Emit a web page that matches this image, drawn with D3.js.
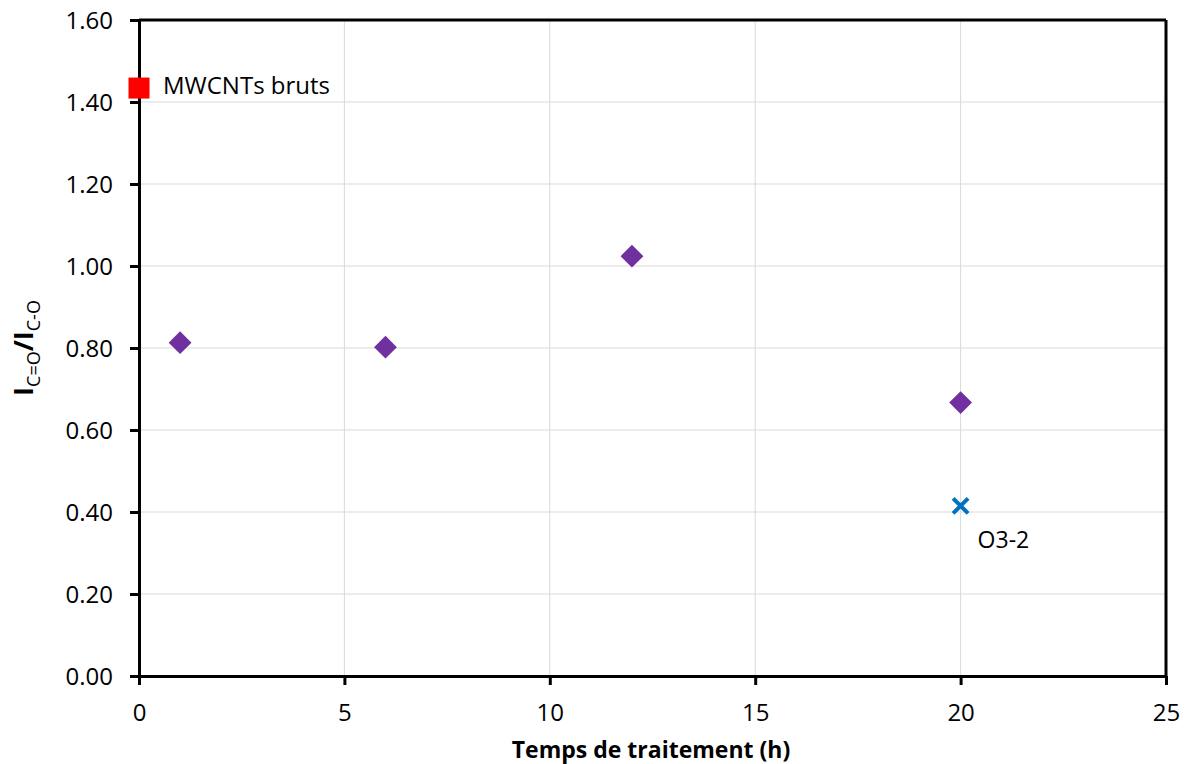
<!DOCTYPE html>
<html><head><meta charset="utf-8">
<script src="https://cdn.jsdelivr.net/npm/d3@7"></script>
<style>body{margin:0;background:#fff}text{font-family:"Open Sans","Liberation Sans",sans-serif}</style>
</head><body>
<svg id="c" width="1185" height="764"></svg>
<script>
const treatX = [1, 6, 12, 20];
const treatY = [0.813, 0.802, 1.024, 0.667];
const rawX = [0];
const rawY = [1.434];
const rawLabel = "MWCNTs bruts";
const o3X = [20];
const o3Y = [0.415];
const o3Label = "O3-2";
const xTicks = [0, 5, 10, 15, 20, 25];
const yTicks = [0, 0.2, 0.4, 0.6, 0.8, 1.0, 1.2, 1.4, 1.6];

const svg = d3.select("#c");
const L = 139, R = 1166, T = 20, B = 676;
const x = d3.scaleLinear().domain([0, 25]).range([L, R]);
const y = d3.scaleLinear().domain([0, 1.6]).range([B, T]);

// grid
svg.append("g").selectAll("line").data(xTicks.filter(d => d > 0 && d < 25)).join("line")
  .attr("x1", d => x(d)).attr("x2", d => x(d)).attr("y1", T).attr("y2", B)
  .attr("stroke", "#d9d9d9").attr("stroke-width", 1);
svg.append("g").selectAll("line").data(yTicks.filter(d => d > 0 && d < 1.6)).join("line")
  .attr("y1", d => y(d)).attr("y2", d => y(d)).attr("x1", L).attr("x2", R)
  .attr("stroke", "#d9d9d9").attr("stroke-width", 1);

// frame top & right
svg.append("line").attr("x1", L).attr("x2", R).attr("y1", T).attr("y2", T).attr("stroke", "#000").attr("stroke-width", 3);
svg.append("line").attr("x1", R).attr("x2", R).attr("y1", T).attr("y2", B).attr("stroke", "#000").attr("stroke-width", 3);

// axes
const xa = svg.append("g").attr("transform", `translate(0,${B})`)
  .call(d3.axisBottom(x).tickValues(xTicks).tickFormat(d3.format("d")).tickSize(9).tickSizeOuter(0));
const ya = svg.append("g").attr("transform", `translate(${L},0)`)
  .call(d3.axisLeft(y).tickValues(yTicks).tickFormat(d3.format(".2f")).tickSize(9).tickSizeOuter(0));
[xa, ya].forEach(a => {
  a.select(".domain").attr("stroke", "#000").attr("stroke-width", 3);
  a.selectAll(".tick line").attr("stroke", "#000").attr("stroke-width", 3);
  a.selectAll(".tick text").attr("font-size", 24).attr("fill", "#000");
});
xa.selectAll(".tick text").attr("dy", "0").attr("y", 45);
ya.selectAll(".tick text").attr("x", -26).attr("dy", "0.36em");

// axis titles
svg.append("text").attr("x", 651).attr("y", 758).attr("text-anchor", "middle")
  .attr("font-size", 23).attr("font-weight", "bold").text("Temps de traitement (h)");
const yt = svg.append("text").attr("transform", "translate(33,348) rotate(-90)").attr("text-anchor", "middle")
  .attr("font-size", 27).attr("font-weight", "bold");
yt.append("tspan").text("I");
yt.append("tspan").attr("font-size", 18).attr("font-weight", "normal").attr("dy", 7).text("C=O");
yt.append("tspan").attr("dy", -7).text("/I");
yt.append("tspan").attr("font-size", 18).attr("font-weight", "normal").attr("dy", 7).text("C-O");

// diamonds
svg.append("g").selectAll("path").data(treatX.map((d, i) => [d, treatY[i]])).join("path")
  .attr("d", d3.symbol(d3.symbolSquare, 260))
  .attr("transform", d => `translate(${x(d[0])},${y(d[1])}) rotate(45)`)
  .attr("fill", "#7030A0");

// raw square
svg.append("g").selectAll("rect").data(rawX.map((d, i) => [d, rawY[i]])).join("rect")
  .attr("x", d => x(d[0]) - 10.5).attr("y", d => y(d[1]) - 10.5)
  .attr("width", 21).attr("height", 21).attr("fill", "#FF0000");
svg.append("text").attr("x", x(rawX[0]) + 24).attr("y", y(rawY[0]) - 3)
  .attr("dy", "0.36em").attr("font-size", 24).text(rawLabel);

// O3-2 cross
const cg = svg.append("g").selectAll("g").data(o3X.map((d, i) => [d, o3Y[i]])).join("g")
  .attr("transform", d => `translate(${x(d[0])},${y(d[1])})`);
cg.append("line").attr("x1", -7.5).attr("y1", -7.5).attr("x2", 7.5).attr("y2", 7.5).attr("stroke", "#0070C0").attr("stroke-width", 4);
cg.append("line").attr("x1", -7.5).attr("y1", 7.5).attr("x2", 7.5).attr("y2", -7.5).attr("stroke", "#0070C0").attr("stroke-width", 4);
svg.append("text").attr("x", x(o3X[0]) + 17).attr("y", y(o3Y[0]) + 42)
  .attr("font-size", 23).text(o3Label);
</script>
</body></html>
